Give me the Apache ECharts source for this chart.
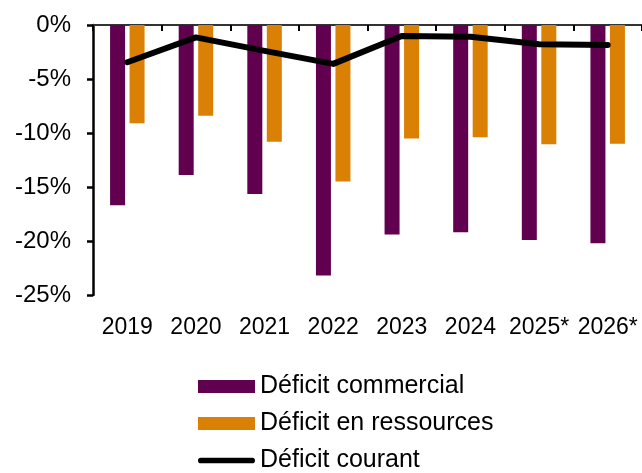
<!DOCTYPE html>
<html><head><meta charset="utf-8">
<script src="https://cdn.jsdelivr.net/npm/echarts@6/dist/echarts.min.js"></script>
<style>html,body{margin:0;padding:0;background:#fff}#c{width:642px;height:473px}</style>
</head><body><div id="c"></div>
<script>
const categories = ['2019','2020','2021','2022','2023','2024','2025*','2026*'];
const deficitCommercial = [-16.7,-13.9,-15.65,-23.2,-19.4,-19.2,-19.9,-20.2];
const deficitRessources = [-9.1,-8.4,-10.8,-14.5,-10.5,-10.4,-11.05,-11.0];
const deficitCourant = [-3.45,-1.15,-2.4,-3.6,-1.02,-1.08,-1.79,-1.85];
const yTicks = [0,-5,-10,-15,-20,-25];

const FONT = 'Liberation Sans, Arial, sans-serif';
const chart = echarts.init(document.getElementById('c'), null, {renderer:'canvas'});
chart.setOption({
  animation:false,
  grid:{left:93, top:25, height:270, right:-6, containLabel:false},
  legend:{
    orient:'vertical', left:198, top:374, padding:0, height:200, itemWidth:57, itemHeight:13, itemGap:12,
    textStyle:{fontFamily:FONT, fontSize:25, color:'#000'},
    data:[
      {name:'Déficit commercial', icon:'rect'},
      {name:'Déficit en ressources', icon:'rect'},
      {name:'Déficit courant', icon:'path://M3,0 L57,0 A3,3 0 0 1 57,6 L3,6 A3,3 0 0 1 3,0 Z'}
    ]
  },
  xAxis:[
    {type:'category', data:categories, position:'bottom',
     axisLine:{show:false}, axisTick:{show:false},
     axisLabel:{fontFamily:FONT, fontSize:23, color:'#000', margin:21, interval:0}},
    {type:'category', data:categories, position:'top',
     axisLine:{show:true, onZero:false, lineStyle:{color:'#333', width:2}},
     axisTick:{show:true, inside:true, length:6, lineStyle:{color:'#000', width:2}},
     axisLabel:{show:false}}
  ],
  yAxis:{
    type:'value', min:-25, max:0, interval:5,
    axisLine:{show:true, lineStyle:{color:'#000', width:2.5}},
    axisTick:{show:true, length:6, lineStyle:{color:'#000', width:2.5}},
    splitLine:{show:false},
    axisLabel:{fontFamily:FONT, fontSize:24, color:'#000', margin:22,
      formatter:v=>v+'%'}
  },
  series:[
    {name:'Déficit commercial', type:'bar', xAxisIndex:0, data:deficitCommercial,
     barWidth:15, barGap:'30%', itemStyle:{color:'#620050'}},
    {name:'Déficit en ressources', type:'bar', xAxisIndex:0, data:deficitRessources,
     barWidth:15, itemStyle:{color:'#DA8005'}},
    {name:'Déficit courant', type:'line', xAxisIndex:0, data:deficitCourant,
     symbol:'none', lineStyle:{color:'#000', width:6, cap:'round', join:'round'},
     itemStyle:{color:'#000'}}
  ]
});
</script></body></html>
